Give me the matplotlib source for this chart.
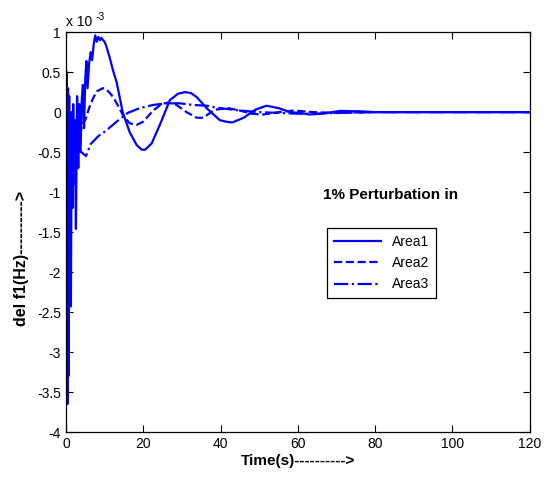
import numpy as np
import matplotlib.pyplot as plt

plt.rcParams['font.family'] = ['Liberation Sans', 'DejaVu Sans']

# frequency deviation in area 1 (units of 1e-3 Hz) for a 1% load step in each area
t1 = [0, 0.1, 0.25, 0.4, 0.55, 0.7, 0.85, 1.0, 1.15, 1.3, 1.5, 1.7, 1.9, 2.1,
      2.3, 2.6, 2.9, 3.2, 3.5, 3.8, 4.1, 4.4, 4.7, 5.0, 5.3, 5.6, 6.0, 6.4, 6.8,
      7.2, 7.6, 8.0, 8.4, 8.8, 9.2, 9.6, 10.0, 10.5, 11.4, 12.2, 13.1, 14.7,
      16.5, 18.3, 19.6, 20.5, 22.2, 24.3, 26.9, 29, 30.8, 32.3, 33.8, 36.4,
      39.8, 41.5, 43, 46, 49, 51.9, 55, 58, 60.5, 63, 66, 71, 76, 80, 90, 120]
area1 = [0, -3.6, 0.5, -3.65, 0.3, -3.3, 0.2, -2.1, -0.1, -2.43, 0.0, -1.2, 0.1,
         -0.9, -0.1, -1.46, 0.2, -0.7, 0.1, -0.5, 0.15, 0.34, -0.2, 0.4, 0.64,
         0.3, 0.6, 0.75, 0.65, 0.85, 0.96, 0.88, 0.94, 0.9, 0.93, 0.9, 0.88, 0.82,
         0.67, 0.52, 0.38, 0.0, -0.25, -0.41, -0.47, -0.47, -0.39, -0.16, 0.15,
         0.23, 0.25, 0.24, 0.19, 0.05, -0.1, -0.12, -0.13, -0.07, 0.03, 0.08,
         0.05, 0.0, -0.01, -0.03, -0.02, 0.015, 0.01, 0.0, 0.0, 0.0]

t2 = [0, 0.3, 0.7, 1.2, 1.7, 2.3, 2.9, 3.5, 4.2, 5, 6, 7, 8, 9.6, 11, 12.2,
      13.5, 14.8, 16.5, 18.3, 20, 22.6, 24.7, 26.4, 28.6, 31.2, 33.8, 35.5,
      38.5, 42, 45, 48, 51, 55, 59, 64, 70, 80, 120]
area2 = [0, -0.9, 0.1, -0.6, 0.0, -0.45, -0.05, -0.35, -0.15, -0.1, 0.05, 0.17,
         0.26, 0.3, 0.26, 0.19, 0.08, -0.04, -0.14, -0.16, -0.12, 0.02, 0.1, 0.12,
         0.09, 0.0, -0.07, -0.07, 0.03, 0.05, 0.02, -0.02, -0.03, 0.0, 0.02, 0.0,
         -0.01, 0.0, 0.0]

t3 = [0, 0.3, 0.8, 1.5, 2.3, 3, 4, 5.2, 6.4, 8.4, 9.6, 11.4, 13.1, 16, 19.1,
      22.6, 26, 29.5, 32.9, 36.4, 39.8, 45, 50, 55, 60, 65, 70, 80, 120]
area3 = [0, -0.6, -0.1, -0.5, -0.2, -0.45, -0.5, -0.55, -0.4, -0.3, -0.26,
         -0.19, -0.12, -0.01, 0.05, 0.09, 0.11, 0.11, 0.09, 0.08, 0.05, 0.02, 0.0,
         -0.01, -0.02, -0.02, -0.01, 0.0, 0.0]

fig = plt.figure(figsize=(5.49, 4.8), dpi=100)
ax = fig.add_axes([0.120, 0.100, 0.845, 0.833])

blue = '#0000ff'
ax.plot(t1, area1, color=blue, lw=1.6, ls='-', label='Area1')
ax.plot(t2, area2, color=blue, lw=1.6, ls='--', label='Area2')
ax.plot(t3, area3, color=blue, lw=1.6, ls='-.', label='Area3')

ax.set_xlim(0, 120)
ax.set_ylim(-4, 1)
ax.set_xticks(np.arange(0, 121, 20))
ax.set_yticks(np.arange(-4, 1.01, 0.5))
ax.set_yticklabels(['-4', '-3.5', '-3', '-2.5', '-2', '-1.5', '-1', '-0.5', '0',
                    '0.5', '1'])
ax.tick_params(direction='in', top=True, right=True, length=5, labelsize=10)
for s in ax.spines.values():
    s.set_linewidth(0.9)

ax.text(0.0, 1.008, 'x 10', transform=ax.transAxes, fontsize=10, va='bottom')
ax.text(0.063, 1.025, '-3', transform=ax.transAxes, fontsize=7.5, va='bottom')

ax.set_xlabel('Time(s)---------->', fontsize=11, fontweight='bold', labelpad=2)
ax.set_ylabel('del f1(Hz)---------->', fontsize=11.5, fontweight='bold')
ax.yaxis.set_label_coords(-0.079, 0.435)

ax.text(0.555, 0.575, '1% Perturbation in', transform=ax.transAxes,
        fontsize=11, fontweight='bold', va='bottom')

leg = ax.legend(loc='upper left', bbox_to_anchor=(0.5625, 0.51), borderaxespad=0,
                fancybox=False, framealpha=1, edgecolor='black', fontsize=10,
                handlelength=3.4, borderpad=0.5, labelspacing=0.52)
leg.get_frame().set_linewidth(0.9)

fig.savefig('out.png', dpi=100)
